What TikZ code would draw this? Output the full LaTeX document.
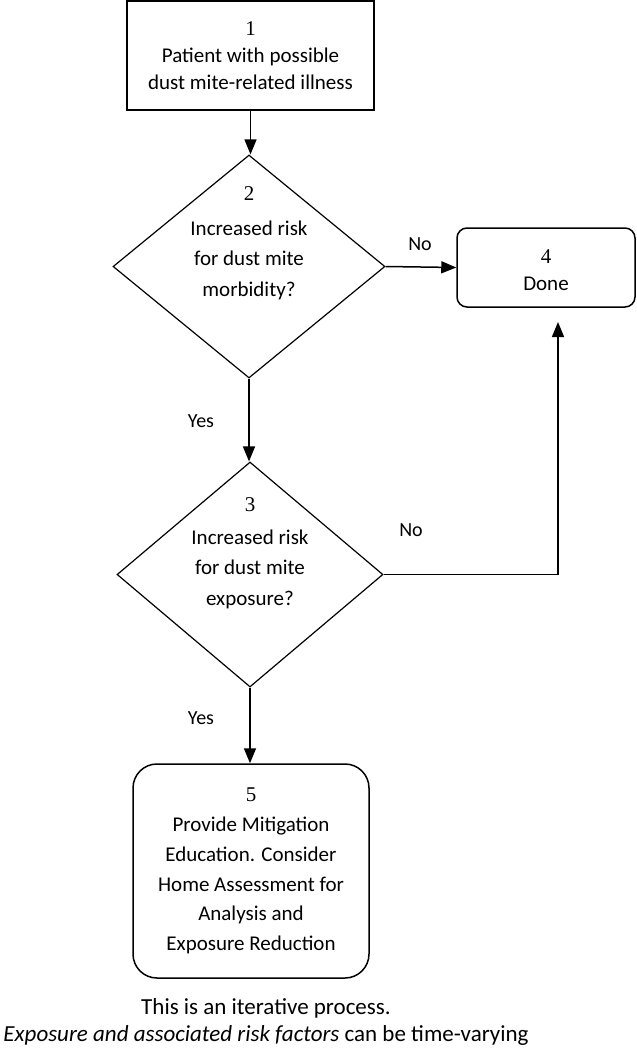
\documentclass[tikz,border=0pt]{standalone}
\usepackage{fontspec}
\setmainfont{Carlito}
\newfontfamily\numfont{Liberation Serif}
\usetikzlibrary{shapes.geometric,arrows.meta}
\begin{document}
\begin{tikzpicture}[x=1pt,y=-1pt,
  every node/.style={font=\fontsize{21}{27}\selectfont, align=center, inner sep=0pt},
  box/.style={draw, line width=1.5pt, minimum width=247pt, minimum height=109pt},
  rbox/.style={draw, line width=1.5pt},
  dia/.style={draw, diamond, line width=1.2pt},
  arr/.style={line width=1.5pt, -{Triangle[length=15pt,width=12pt]}},
  lbl/.style={font=\fontsize{20}{24}\selectfont},
  foot/.style={font=\fontsize{23}{28}\selectfont}]
\useasboundingbox (0,0) rectangle (637,1050);

\node[box] (b1) at (250.5,55.5) {{\numfont 1}\\Patient with possible\\dust mite-related illness};

\node[dia, minimum width=272pt, minimum height=223pt] (d2) at (249,266.5) {};
\node[font=\fontsize{21}{30.5}\selectfont] (t2) at (249,243) {{\numfont 2}\\[4pt]Increased risk\\for dust mite\\morbidity?};

\node[rbox, rounded corners=10pt, minimum width=178pt, minimum height=79pt] (b4) at (546,267.5) {};
\node (t4) at (546,270.5) {{\numfont 4}\\Done};

\node[dia, minimum width=266pt, minimum height=225pt] (d3) at (250,574.5) {};
\node[font=\fontsize{21}{30.5}\selectfont] (t3) at (250,553) {{\numfont 3}\\[2pt]Increased risk\\for dust mite\\exposure?};

\node[rbox, rounded corners=24pt, minimum width=236pt, minimum height=214pt, font=\fontsize{21}{29.8}\selectfont] (b5) at (251,871) {{\numfont 5}\\Provide Mitigation\\Education. Consider\\Home Assessment for\\Analysis and\\Exposure Reduction};

\coordinate (c4) at (558,322);

\draw[arr] (b1.south) -- (b1.south |- d2.north);
\draw[arr] (d2.east) -- (b4.west);
\draw[arr] (d2.south) -- (d2.south |- d3.north);
\draw[arr] (d3.east) -| (c4);
\draw[arr] (d3.south) -- (d3.south |- b5.north);

\node[lbl] (no1) at (420,244) {No};
\node[lbl] (no2) at (411,530) {No};
\node[lbl] (yes1) at (201,421) {Yes};
\node[lbl] (yes2) at (201,718) {Yes};

\node[foot] (f1) at (266,1008) {This is an iterative process.};
\node[foot] (f2) at (266,1035) {\textit{Exposure and associated risk factors} can be time-varying};
\end{tikzpicture}
\end{document}
